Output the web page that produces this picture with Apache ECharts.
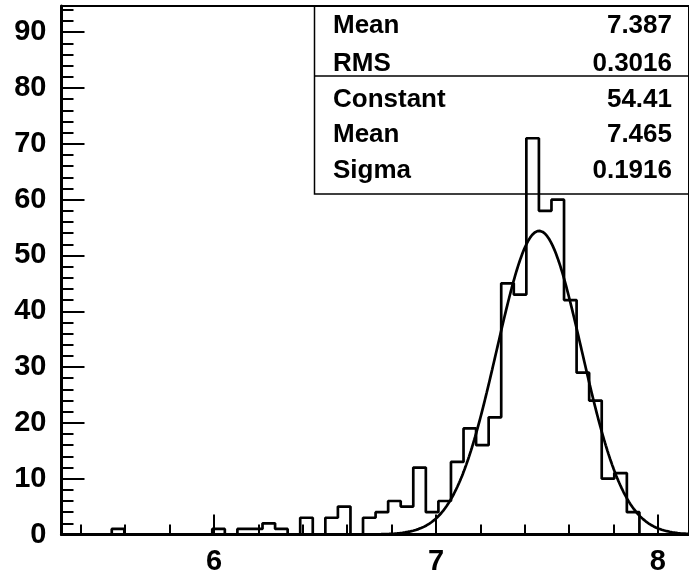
<!DOCTYPE html>
<html>
<head>
<meta charset="utf-8">
<script src="https://cdn.jsdelivr.net/npm/echarts@6/dist/echarts.min.js"></script>
<style>
html,body{margin:0;padding:0;background:#fff;}
#c{width:689px;height:577px;}
</style>
</head>
<body>
<div id="c"></div>
<script>
// ---- data ----
var binLow = 5.313;
var binWidth = 0.0566;
var counts = [0,0,0,0,1,0,0,0,0,0,
              0,0,1,0,1,1,2,1,0,3,
              0,3,5,0,3,4,6,5,12,4,
              6,13,19,16,21,45,43,71,58,60,
              42,29,24,10,11,4,0,0,0,0];
var fitConstant = 54.41, fitMean = 7.465, fitSigma = 0.1916;
var statLabels = ['Mean','RMS','Constant','Mean','Sigma'];
var statValues = ['7.387','0.3016','54.41','7.465','0.1916'];
var xMajorTicks = [6,7,8];
var xMinorTicks = [5.4,5.6,5.8,6.2,6.4,6.6,6.8,7.2,7.4,7.6,7.8];
var yMajorTicks = [0,10,20,30,40,50,60,70,80,90];
var yMinorTicks = [2,4,6,8,12,14,16,18,22,24,26,28,32,34,36,38,42,44,46,48,52,54,56,58,62,64,66,68,72,74,76,78,82,84,86,88,92,94];
var xMin = 5.313, xMax = 8.14, yMin = 0, yMax = 94.7;

// ---- build series ----
var histPts = [];
for (var k = 0; k < counts.length; k++) {
  var lo = binLow + k * binWidth, hi = lo + binWidth;
  histPts.push([lo, counts[k]]);
  histPts.push([hi, counts[k]]);
}
var fitPts = [];
for (var x = xMin; x <= xMax + 1e-9; x += 0.004) {
  var z = (x - fitMean) / fitSigma;
  fitPts.push([x, fitConstant * Math.exp(-0.5 * z * z)]);
}

var FONT = 'Liberation Sans';
var chart = echarts.init(document.getElementById('c'), null, {renderer:'canvas'});

var graphics = [];
graphics.push({type:'rect', z:0, shape:{x:314.5, y:6, width:400, height:188},
  style:{fill:'transparent', stroke:'#000', lineWidth:1.5}});
graphics.push({type:'line', z:0, shape:{x1:314.5, y1:76, x2:700, y2:76},
  style:{stroke:'#000', lineWidth:1.5}});
var rowY = [26, 63.5, 100, 135, 170.5];
for (var i = 0; i < statLabels.length; i++) {
  graphics.push({type:'text', z:1, style:{text:statLabels[i], x:333, y:rowY[i],
    font:'bold 26px "' + FONT + '"', fill:'#000', textAlign:'left', textVerticalAlign:'middle'}});
  graphics.push({type:'text', z:1, style:{text:statValues[i], x:672, y:rowY[i],
    font:'bold 26px "' + FONT + '"', fill:'#000', textAlign:'right', textVerticalAlign:'middle'}});
}

var labelStyle = {fontFamily:FONT, fontWeight:'bold', fontSize:29, color:'#000'};

chart.setOption({
  animation:false,
  backgroundColor:'#fff',
  grid:{left:61.5, top:6, right:-3, bottom:42.5, show:true, borderColor:'#000', borderWidth:2, containLabel:false},
  xAxis:[
    {type:'value', min:xMin, max:xMax, position:'bottom',
     axisLine:{show:true, onZero:false, lineStyle:{color:'#000', width:3}},
     axisTick:{show:true, inside:true, length:20, customValues:xMajorTicks, lineStyle:{color:'#000', width:2}},
     axisLabel:Object.assign({show:true, margin:13, customValues:xMajorTicks}, labelStyle),
     splitLine:{show:false}},
    {type:'value', min:xMin, max:xMax, position:'bottom',
     axisLine:{show:false, onZero:false},
     axisTick:{show:true, inside:true, length:10, customValues:xMinorTicks, lineStyle:{color:'#000', width:2}},
     axisLabel:{show:false},
     splitLine:{show:false}}
  ],
  yAxis:[
    {type:'value', min:yMin, max:yMax, position:'left',
     axisLine:{show:true, onZero:false, lineStyle:{color:'#000', width:3}},
     axisTick:{show:true, inside:true, length:23, customValues:yMajorTicks, lineStyle:{color:'#000', width:2}},
     axisLabel:Object.assign({show:true, margin:15, customValues:yMajorTicks}, labelStyle),
     splitLine:{show:false}},
    {type:'value', min:yMin, max:yMax, position:'left',
     axisLine:{show:false, onZero:false},
     axisTick:{show:true, inside:true, length:12, customValues:yMinorTicks, lineStyle:{color:'#000', width:2}},
     axisLabel:{show:false},
     splitLine:{show:false}}
  ],
  graphic:graphics,
  series:[
    {type:'line', data:histPts, xAxisIndex:0, yAxisIndex:0, showSymbol:false, symbol:'none',
     lineStyle:{color:'#000', width:2.7}, z:3},
    {type:'line', data:fitPts, xAxisIndex:0, yAxisIndex:0, showSymbol:false, symbol:'none', smooth:false,
     lineStyle:{color:'#000', width:2.7}, z:4}
  ]
});
</script>
</body>
</html>
